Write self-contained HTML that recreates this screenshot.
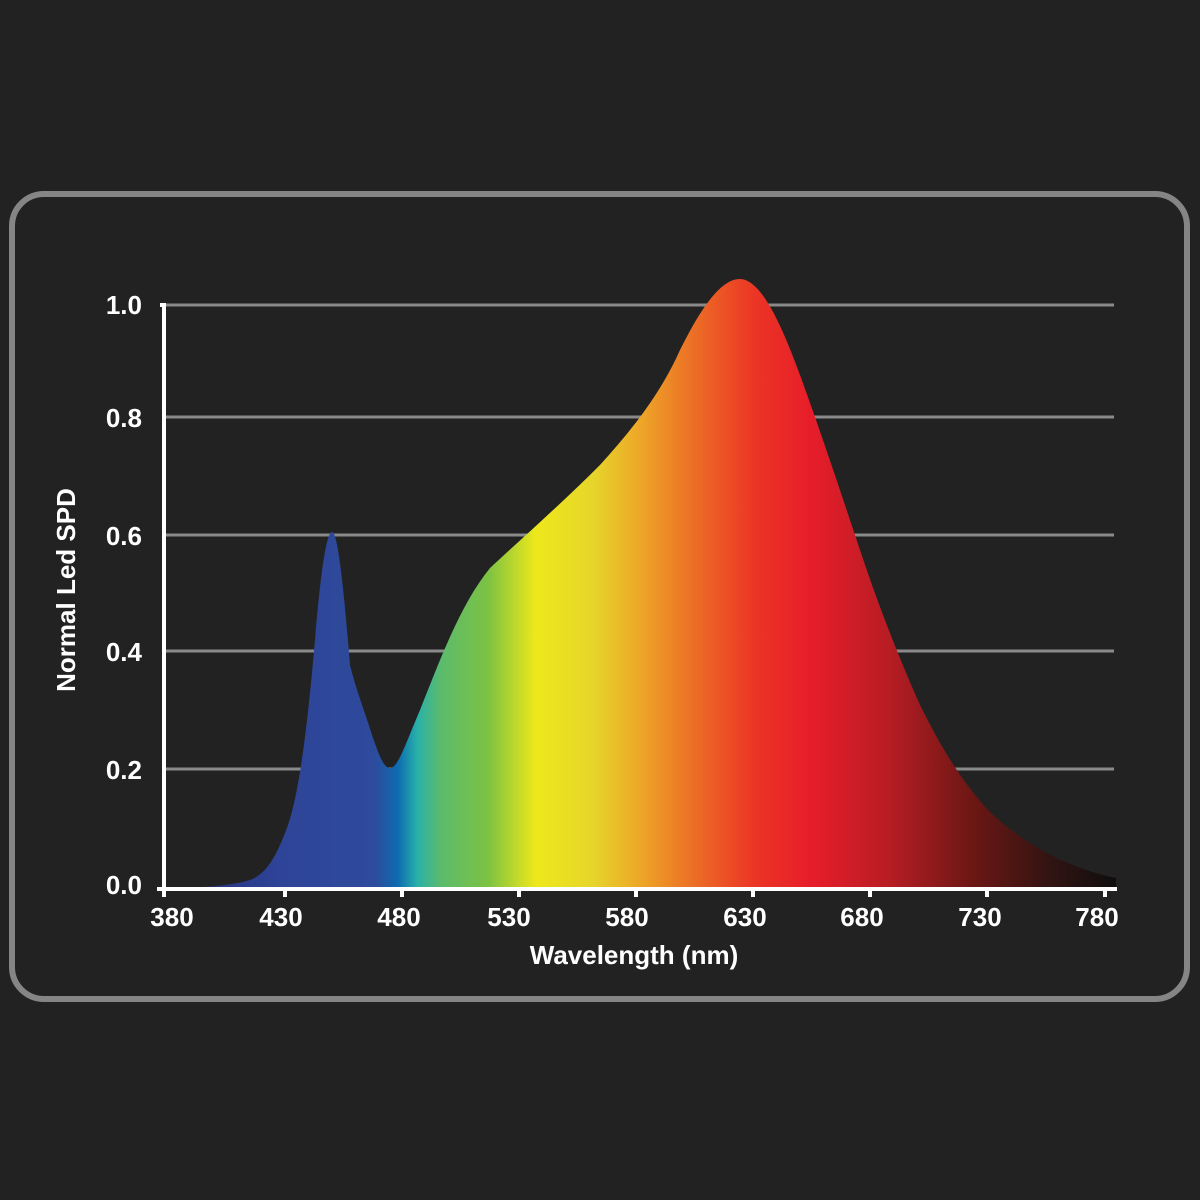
<!DOCTYPE html>
<html><head><style>
html,body{margin:0;padding:0;background:#222;}
svg{display:block}
text{font-family:"Liberation Sans",sans-serif;fill:#fff;font-size:26px;font-weight:bold;}
</style></head><body>
<svg width="1200" height="1200" viewBox="0 0 1200 1200">
<rect width="1200" height="1200" fill="#222"/>
<rect x="12" y="194" width="1175" height="805" rx="32" ry="32" fill="none" stroke="#858585" stroke-width="6"/>
<defs>
<linearGradient id="g" gradientUnits="userSpaceOnUse" x1="165" y1="0" x2="1116" y2="0">
<stop offset="0" stop-color="#1e2a60"/>
<stop offset="0.08" stop-color="#2a3c8c"/>
<stop offset="0.12" stop-color="#2e4497"/>
<stop offset="0.22" stop-color="#2e4a9c"/>
<stop offset="0.245" stop-color="#0d6cb0"/>
<stop offset="0.265" stop-color="#28b0aa"/>
<stop offset="0.29" stop-color="#5bbb6c"/>
<stop offset="0.34" stop-color="#7dc242"/>
<stop offset="0.39" stop-color="#eee81b"/>
<stop offset="0.45" stop-color="#e6d52a"/>
<stop offset="0.5" stop-color="#eda628"/>
<stop offset="0.56" stop-color="#ec6a25"/>
<stop offset="0.62" stop-color="#eb3525"/>
<stop offset="0.68" stop-color="#e71d2a"/>
<stop offset="0.76" stop-color="#b81d24"/>
<stop offset="0.85" stop-color="#6b1714"/>
<stop offset="0.93" stop-color="#321412"/>
<stop offset="1" stop-color="#0e0e0e"/>
</linearGradient>
</defs>
<g stroke="#8a8a8a" stroke-width="3">
<line x1="164" y1="305" x2="1114" y2="305"/>
<line x1="164" y1="417" x2="1114" y2="417"/>
<line x1="164" y1="535" x2="1114" y2="535"/>
<line x1="164" y1="651" x2="1114" y2="651"/>
<line x1="164" y1="769" x2="1114" y2="769"/>
</g>
<path fill="url(#g)" d="M165,888 C200,888 230,886 250,880 C266,874 276,858 288,825 C300,790 308,720 315,640 C320,580 326,532 332,532 C338,532 344,590 350,665 C356,690 365,712 372,735 C378,752 383,768 390,768 C398,768 405,745 420,710 C440,660 460,605 490,568 C520,540 560,505 600,465 C630,432 660,395 680,350 C700,310 720,279 740,279 C760,279 780,320 800,375 C820,430 840,490 860,550 C880,610 900,660 920,705 C940,745 960,780 990,812 C1020,840 1060,866 1116,878 L1116,889 L165,889 Z"/>
<line x1="164" y1="303" x2="164" y2="891" stroke="#fff" stroke-width="4"/>
<line x1="160" y1="305" x2="166" y2="305" stroke="#fff" stroke-width="4"/>
<line x1="157" y1="889" x2="1117" y2="889" stroke="#fff" stroke-width="4"/>
<g stroke="#fff" stroke-width="4">
<line x1="285" y1="889" x2="285" y2="897"/><line x1="402" y1="889" x2="402" y2="897"/>
<line x1="519" y1="889" x2="519" y2="897"/><line x1="636" y1="889" x2="636" y2="897"/>
<line x1="753" y1="889" x2="753" y2="897"/><line x1="870" y1="889" x2="870" y2="897"/>
<line x1="987" y1="889" x2="987" y2="897"/><line x1="1105" y1="889" x2="1105" y2="897"/>
<line x1="164" y1="889" x2="164" y2="897"/>
</g>
<g text-anchor="end">
<text x="142" y="314">1.0</text>
<text x="142" y="427">0.8</text>
<text x="142" y="545">0.6</text>
<text x="142" y="661">0.4</text>
<text x="142" y="779">0.2</text>
<text x="142" y="894">0.0</text>
</g>
<g text-anchor="middle">
<text x="172" y="926">380</text>
<text x="281" y="926">430</text>
<text x="399" y="926">480</text>
<text x="509" y="926">530</text>
<text x="627" y="926">580</text>
<text x="745" y="926">630</text>
<text x="862" y="926">680</text>
<text x="980" y="926">730</text>
<text x="1097" y="926">780</text>
<text x="634" y="964">Wavelength (nm)</text>
<text x="0" y="0" transform="translate(75,590) rotate(-90)">Normal Led SPD</text>
</g>
</svg>
</body></html>
